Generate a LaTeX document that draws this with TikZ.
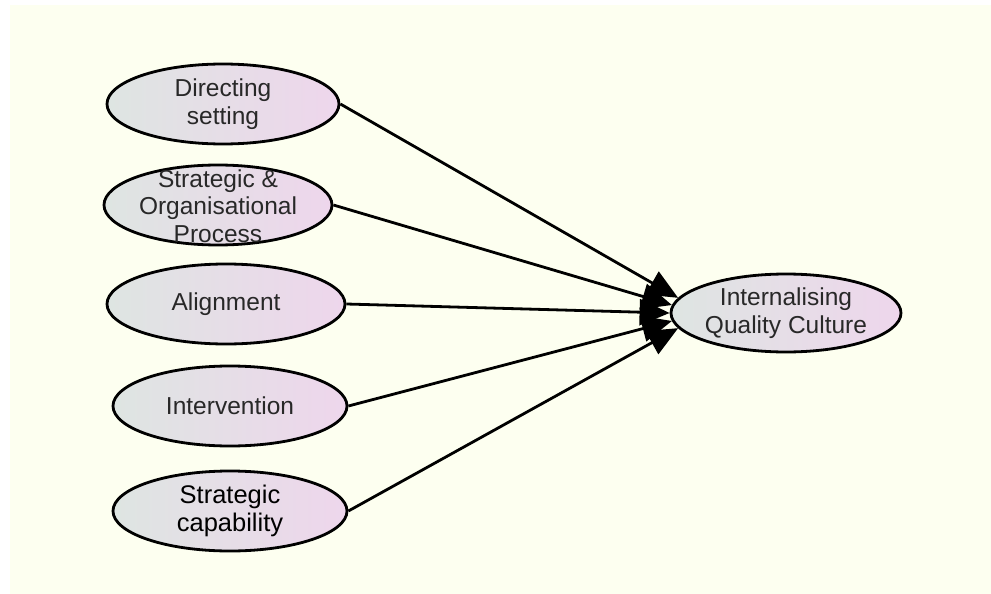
\documentclass[tikz,border=0pt]{standalone}
\usepackage{fontspec}
\setmainfont{Liberation Sans}
\usetikzlibrary{shapes.geometric,arrows.meta}
\definecolor{cream}{RGB}{253,255,240}
\definecolor{leftfill}{RGB}{222,229,226}
\definecolor{rightfill}{RGB}{238,214,236}
\definecolor{txt}{RGB}{40,40,40}
\tikzset{
  oval/.style={ellipse, draw=black, line width=2.8pt, shading=axis,
    left color=leftfill, right color=rightfill, shading angle=90,
    minimum width=232pt, minimum height=80pt, inner sep=0pt,
    align=center, text=txt, font=\fontsize{24.5}{27.5}\selectfont},
  ovaltext/.style={align=center, text=txt, inner sep=0pt, font=\fontsize{24.5}{27.5}\selectfont},
  conn/.style={line width=2.8pt, -{Triangle[length=30pt,width=26pt]}}
}
\begin{document}
\begin{tikzpicture}[x=1pt,y=-1pt]
\useasboundingbox (0,0) rectangle (991,594);
\fill[cream] (10,5) rectangle (991,594);
\node[oval] (dir) at (223,104) {Directing\\setting};
\node[oval, minimum width=228pt, minimum height=80pt] (sop) at (218,205) {};
\node[ovaltext] (soptext) at (218,206) {Strategic \&\\Organisational\\Process};
\node[oval, minimum width=238pt] (ali) at (226,304) {Alignment};
\node[oval, minimum width=234pt] (int) at (230,406) {Intervention};
\node[oval, minimum width=234pt, text=black, font=\fontsize{25.5}{28}\selectfont] (cap) at (230,511) {Strategic\\capability};
\node[oval, minimum width=230pt, minimum height=78pt] (tgt) at (786,313) {Internalising\\Quality Culture};
\draw[conn] (dir.east) -- (tgt.172);
\draw[conn] (sop.east) -- (tgt.176);
\draw[conn] (ali.east) -- (tgt.180);
\draw[conn] (int.east) -- (tgt.184);
\draw[conn] (cap.east) -- (tgt.188);
\end{tikzpicture}
\end{document}
